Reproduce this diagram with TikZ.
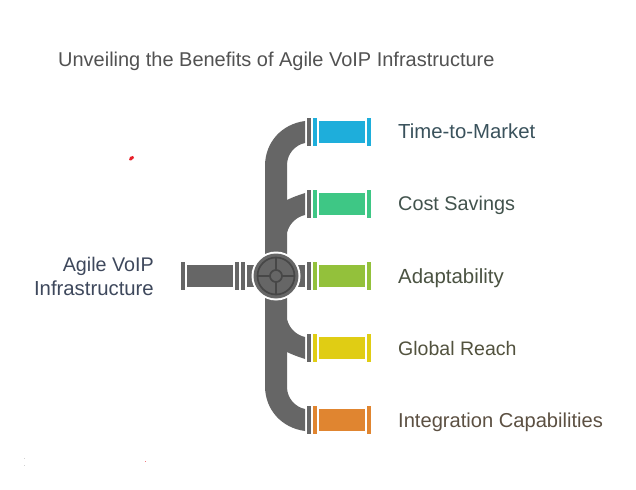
\documentclass[tikz,border=0pt]{standalone}
\usepackage{fontspec}
\setmainfont{Liberation Sans}
\definecolor{pipe}{HTML}{666666}
\definecolor{ringc}{HTML}{474747}
\definecolor{cblue}{HTML}{1EAEDB}
\definecolor{cgreen}{HTML}{3EC785}
\definecolor{clime}{HTML}{93C13B}
\definecolor{cyellow}{HTML}{E0CD14}
\definecolor{corange}{HTML}{E08530}
\definecolor{speck}{HTML}{E8202A}
\tikzset{
  lab/.style={anchor=base west,inner sep=0pt},
  labr/.style={anchor=base east,inner sep=0pt},
}
\newcommand{\fs}[1]{\fontsize{#1}{24}\selectfont}
\newcommand{\outlet}[2]{%
  \fill[pipe] (307,#1-14) rectangle (311,#1+14);
  \fill[#2] (313,#1-14) rectangle (317,#1+14);
  \fill[#2] (319,#1-11) rectangle (365,#1+11);
  \fill[#2] (367,#1-14) rectangle (371,#1+14);
}
\begin{document}
\begin{tikzpicture}[x=1bp,y=-1bp]
\useasboundingbox (0,0) rectangle (636,490);
\fill[white] (0,0) rectangle (636,490);
% main pipe
\fill[pipe] (305,121) .. controls (282,124) and (265,142) .. (265,166)
  -- (265,386) .. controls (265,410) and (282,428) .. (305,431)
  -- (305,409) .. controls (295,407) and (287,398) .. (287,387)
  -- (287,352) .. controls (293,355) and (299,357) .. (305,359)
  -- (305,337) .. controls (296,335) and (289,328) .. (287,319)
  -- (287,233) .. controls (289,224) and (296,217) .. (305,215)
  -- (305,193) .. controls (299,195) and (293,197) .. (287,200)
  -- (287,165) .. controls (287,154) and (295,145) .. (305,143) -- cycle;
% outlets
\outlet{132}{cblue}
\outlet{204}{cgreen}
\outlet{276}{clime}
\outlet{348}{cyellow}
\outlet{420}{corange}
% inlet
\fill[pipe] (181,262) rectangle (185,290);
\fill[pipe] (187,265) rectangle (233,287);
\fill[pipe] (235,262) rectangle (239,290);
\fill[pipe] (241,262) rectangle (245,290);
\fill[pipe] (247,265) rectangle (305,287);
% valve
\fill[white] (276,276) circle (24.5);
\fill[pipe] (276,276) circle (22.5);
\draw[ringc,line width=1.7bp] (276,276) circle (18.5);
\draw[ringc,line width=1.7bp] (276,276) circle (6);
\draw[ringc,line width=1.7bp] (276,258) -- (276,270);
\draw[ringc,line width=1.7bp] (276,282) -- (276,294);
\draw[ringc,line width=1.7bp] (258,276) -- (270,276);
\draw[ringc,line width=1.7bp] (282,276) -- (294,276);
% specks
\fill[speck] (129,160) -- (130,157) -- (133,156) -- (134,158) -- (131,160.5) -- cycle;
\fill[speck!60] (144.7,460.5) rectangle (145.7,461.8);
\fill[black!18] (24,457.5) rectangle (25,458.5);
\fill[black!18] (24,464.5) rectangle (25,465.5);
% texts
\node[lab,text=black!68,font=\fs{20.05}] (title) at (58,67) {Unveiling the Benefits of Agile VoIP Infrastructure};
\node[lab,font=\fs{20.4},text={rgb,255:red,58;green,82;blue,92}] (t1) at (398,139) {Time-to-Market};
\node[lab,font=\fs{19.9},text={rgb,255:red,66;green,83;blue,77}] (t2) at (398,211) {Cost Savings};
\node[lab,font=\fs{20.5},text={rgb,255:red,75;green,83;blue,66}] (t3) at (398,283) {Adaptability};
\node[lab,font=\fs{19.6},text={rgb,255:red,82;green,82;blue,62}] (t4) at (398,355) {Global Reach};
\node[lab,font=\fs{20.2},text={rgb,255:red,92;green,80;blue,66}] (t5) at (398,427) {Integration Capabilities};
\node[labr,font=\fs{19.8},text={rgb,255:red,62;green,72;blue,92}] (t0a) at (154,271) {Agile VoIP};
\node[labr,font=\fs{20.4},text={rgb,255:red,62;green,72;blue,92}] (t0b) at (154,295) {Infrastructure};
\end{tikzpicture}
\end{document}
